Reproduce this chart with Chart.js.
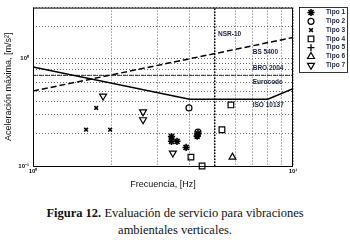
<!DOCTYPE html>
<html>
<head>
<meta charset="utf-8">
<script src="https://cdn.jsdelivr.net/npm/chart.js@4.4.1/dist/chart.umd.min.js"></script>
<style>
  body { margin: 0; background: #fff; width: 350px; height: 242px; overflow: hidden; position: relative; }
  #c { position: absolute; left: 0; top: 0; }
  .cap { position: absolute; left: 0; top: 205px; width: 350px; text-align: center;
         font-family: "Liberation Serif", "Times New Roman", serif; font-size: 12.5px; line-height: 17px; color: #111; }
</style>
</head>
<body>
<canvas id="c" width="350" height="200"></canvas>
<div class="cap"><b>Figura 12.</b> Evaluación de servicio para vibraciones<br>ambientales verticales.</div>
<script>
// measured points [frecuencia Hz, aceleracion m/s2]
var tipo1 = [[3.41, 0.188], [3.41, 0.170], [3.58, 0.170], [3.88, 0.149], [4.31, 0.200], [4.28, 0.190]];
var tipo2 = [[3.98, 0.348], [4.31, 0.207]];
var tipo3 = [[1.75, 0.348], [1.60, 0.218], [1.98, 0.218]];
var tipo4 = [[4.05, 0.121], [4.47, 0.100], [5.33, 0.218], [5.77, 0.371]];
var tipo5 = [];
var tipo6 = [[5.85, 0.121]];
var tipo7 = [[1.86, 0.448], [2.65, 0.320], [2.65, 0.270], [3.45, 0.132]];

// limit curves
var isoF = [1, 4, 8, 10], isoA = [0.84, 0.42, 0.42, 0.525];
var bsF = [1, 10], bsA = [0.5, 1.58];
var broF = [1, 10], broA = [0.7, 0.7];
var nsrF = [5, 5], nsrA = [0.1, 3];

// curve labels
var curveNames = ["NSR-10", "BS 5400", "BRO 2004", "Eurocode", "ISO 10137"];
var curveNameF = [5.15, 7.0, 7.0, 7.0, 7.0];
var curveNameA = [1.70, 1.16, 0.81, 0.60, 0.37];

var xTicks = [1, 2, 3, 4, 5, 6, 7, 8, 9, 10];
var yTicks = [0.1, 0.2, 0.3, 0.4, 0.5, 0.6, 0.7, 0.8, 0.9, 1, 2, 3];
var xTickText = { 1: "10\u2070", 10: "10\u00b9" };
var yTickText = { 0.1: "10\u207b\u00b9", 1: "10\u2070" };

function pts(arr) { return arr.map(function (p) { return { x: p[0], y: p[1] }; }); }
function curve(f, a) { return f.map(function (v, i) { return { x: v, y: a[i] }; }); }

var tipos = [
  { label: "Tipo 1", data: tipo1, style: "star", r: 3.6, bw: 1.6, rot: 0 },
  { label: "Tipo 2", data: tipo2, style: "circle", r: 3, bw: 1.2, rot: 0 },
  { label: "Tipo 3", data: tipo3, style: "crossRot", r: 2.6, bw: 1.6, rot: 0 },
  { label: "Tipo 4", data: tipo4, style: "rect", r: 4, bw: 1.2, rot: 0 },
  { label: "Tipo 5", data: tipo5, style: "cross", r: 3.5, bw: 1.3, rot: 0 },
  { label: "Tipo 6", data: tipo6, style: "triangle", r: 4, bw: 1.2, rot: 0 },
  { label: "Tipo 7", data: tipo7, style: "triangle", r: 4, bw: 1.2, rot: 180 }
];

var datasets = [
  { data: curve(isoF, isoA), showLine: true, pointRadius: 0, borderColor: "#000", borderWidth: 1.5 },
  { data: curve(bsF, bsA), showLine: true, pointRadius: 0, borderColor: "#000", borderWidth: 1.5, borderDash: [6, 3] },
  { data: curve(broF, broA), showLine: true, pointRadius: 0, borderColor: "#444", borderWidth: 1.2, borderDash: [3, 1, 1, 1] },
  { data: curve(nsrF, nsrA), showLine: true, pointRadius: 0, borderColor: "#000", borderWidth: 1.5, borderDash: [1.5, 1.5] }
];
tipos.forEach(function (t) {
  datasets.push({
    label: t.label, data: pts(t.data), pointStyle: t.style, pointRadius: t.r, pointRotation: t.rot,
    pointBorderWidth: t.bw, borderColor: "#000", backgroundColor: "rgba(0,0,0,0)", clip: false
  });
});

var extras = {
  id: "extras",
  afterDatasetsDraw: function (chart) {
    var ctx = chart.ctx, a = chart.chartArea, xs = chart.scales.x, ys = chart.scales.y;
    ctx.save();
    ctx.strokeStyle = "#000";
    ctx.lineWidth = 1;
    ctx.strokeRect(a.left + 0.5, a.top + 0.5, a.right - a.left - 1, a.bottom - a.top);

    ctx.fillStyle = "#1c2340";
    ctx.font = "bold 6.5px 'Liberation Sans', Arial, sans-serif";
    ctx.textBaseline = "middle";
    ctx.textAlign = "left";
    curveNames.forEach(function (n, i) {
      ctx.fillText(n, xs.getPixelForValue(curveNameF[i]), ys.getPixelForValue(curveNameA[i]));
    });

    // legend
    var lx = 299, ly = 7, lw = 48, lh = 65;
    ctx.fillStyle = "#fff";
    ctx.fillRect(lx, ly, lw, lh);
    ctx.strokeStyle = "#000";
    ctx.lineWidth = 0.8;
    ctx.strokeRect(lx + 0.5, ly + 0.5, lw, lh);
    ctx.font = "bold 6.5px 'Liberation Sans', Arial, sans-serif";
    tipos.forEach(function (t, i) {
      var y = ly + 5.5 + i * 8.8;
      ctx.strokeStyle = "#000";
      ctx.fillStyle = "rgba(0,0,0,0)";
      ctx.lineWidth = t.bw;
      Chart.helpers.drawPoint(ctx, { pointStyle: t.style, radius: t.r, rotation: t.rot, borderWidth: t.bw }, 311, y);
      ctx.fillStyle = "#1c2340";
      ctx.fillText(t.label, 326, y);
    });
    ctx.restore();
  }
};

new Chart(document.getElementById("c").getContext("2d"), {
  type: "scatter",
  data: { datasets: datasets },
  plugins: [extras],
  options: {
    responsive: false,
    animation: false,
    devicePixelRatio: 1,
    layout: { padding: { top: 5, right: 57, left: 0, bottom: 0 } },
    plugins: { legend: { display: false }, tooltip: { enabled: false } },
    scales: {
      x: {
        type: "logarithmic", min: 1, max: 10,
        afterBuildTicks: function (s) { s.ticks = xTicks.map(function (v) { return { value: v }; }); },
        afterFit: function (s) { s.height = 34; },
        ticks: {
          autoSkip: false, maxRotation: 0, padding: 2, color: "#111",
          font: { size: 6, family: "'Liberation Sans', Arial, sans-serif", weight: "bold" },
          callback: function (v) { return xTickText[v] || ""; }
        },
        grid: { color: "#444", lineWidth: 0.8, drawTicks: false },
        border: { display: false, dash: [1, 2] },
        title: {
          display: true, text: "Frecuencia, [Hz]", color: "#111",
          font: { size: 9, family: "'Liberation Sans', Arial, sans-serif" }, padding: { top: 0, bottom: 10 }
        }
      },
      y: {
        type: "logarithmic", min: 0.1, max: 3,
        afterBuildTicks: function (s) { s.ticks = yTicks.map(function (v) { return { value: v }; }); },
        afterFit: function (s) { s.width = 33; },
        ticks: {
          autoSkip: false, padding: 4, color: "#111",
          font: { size: 6, family: "'Liberation Sans', Arial, sans-serif", weight: "bold" },
          callback: function (v) { return yTickText[v] || ""; }
        },
        grid: { color: "#444", lineWidth: 0.8, drawTicks: false },
        border: { display: false, dash: [1, 2] },
        title: {
          display: true, text: "Aceleración máxima, [m/s²]", color: "#111",
          font: { size: 9, family: "'Liberation Sans', Arial, sans-serif" }, padding: { top: 3, bottom: 0 }
        }
      }
    }
  }
});
</script>
</body>
</html>
